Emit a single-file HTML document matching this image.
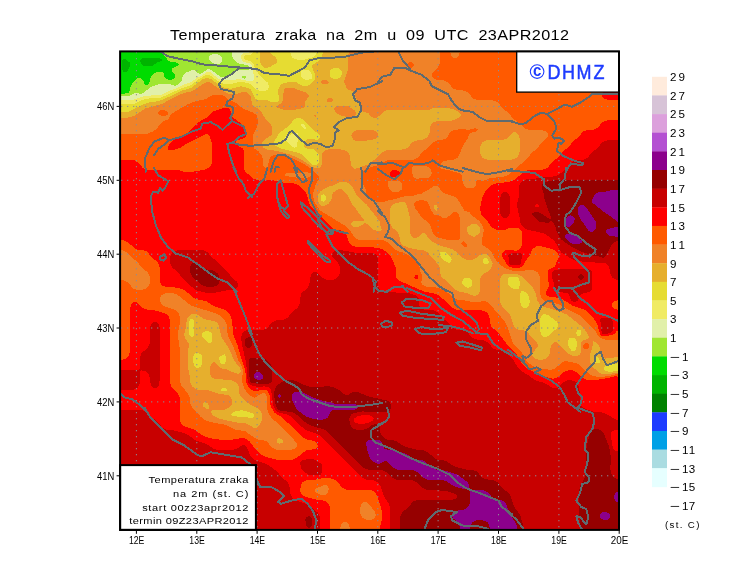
<!DOCTYPE html>
<html><head><meta charset="utf-8"><title>Temperatura zraka na 2m</title>
<style>
html,body{margin:0;padding:0;background:#fff;}
body{width:740px;height:582px;overflow:hidden;}
svg{display:block}
text{font-family:"Liberation Sans",sans-serif;fill:#000}
</style></head><body>
<svg width="740" height="582" viewBox="0 0 740 582">
<rect width="740" height="582" fill="#fff"/>
<defs><clipPath id="mc"><rect x="120" y="51" width="499" height="479"/></clipPath></defs>
<g clip-path="url(#mc)" shape-rendering="crispEdges">
<rect x="100" y="40" width="540" height="500" fill="#00b400"/>
<path fill="#00dc00" fill-rule="evenodd" d="M111.0,41.0 629.0,41.0 629.0,539.0 111.0,539.0ZM123.0,59.0 122.1,61.0 122.1,69.0 123.0,71.6 125.0,72.7 127.5,71.0 130.3,65.0 130.3,63.0 125.0,58.7ZM141.0,58.9 140.2,61.0 141.0,63.7 143.0,65.5 147.0,66.0 153.0,65.5 157.0,62.5 161.5,61.0 162.0,59.0 159.0,58.1 153.0,58.0 143.0,58.1Z"/>
<path fill="#a0e632" fill-rule="evenodd" d="M162.0,41.0 629.0,41.0 629.0,539.0 111.0,539.0 111.0,93.5 125.0,93.5 128.3,93.0 129.8,91.0 130.5,87.0 132.5,83.0 137.0,78.5 139.0,78.1 141.0,78.5 143.5,81.0 145.0,85.0 147.0,85.2 149.4,83.0 151.0,76.3 154.3,73.0 157.0,72.1 163.0,72.3 163.8,73.0 164.5,77.0 167.0,79.4 171.0,79.9 173.7,79.0 175.4,77.0 175.4,75.0 171.7,71.0 171.5,69.0 179.4,65.0 177.0,62.6 169.0,61.4 163.7,55.0 162.5,53.0 162.1,51.0Z"/>
<path fill="#e1f0aa" fill-rule="evenodd" d="M250.0,41.0 629.0,41.0 629.0,539.0 111.0,539.0 111.0,96.0 127.0,96.3 129.0,96.0 135.0,93.1 141.0,93.7 143.4,93.0 151.0,86.7 159.0,84.1 169.0,84.1 175.0,85.7 177.0,85.2 181.4,81.0 182.5,77.0 184.8,73.0 191.0,70.5 193.0,70.1 195.0,70.5 199.0,73.9 201.0,73.6 207.0,69.6 209.0,69.2 211.0,69.7 220.8,77.0 225.0,77.5 227.6,77.0 231.0,75.5 237.0,70.5 249.0,69.7 249.6,69.0 249.6,67.0 247.1,65.0 239.0,63.5 234.8,61.0 232.5,57.0 232.0,51.0 232.9,47.0 235.0,46.1 247.0,46.0 249.0,45.5 250.0,43.0ZM243.0,75.6 242.0,77.0 243.0,78.2 245.0,79.0 246.4,77.0 245.0,75.5ZM210.3,55.0 213.0,54.1 215.0,54.0 217.0,54.1 219.7,55.0 221.5,57.0 221.9,59.0 221.9,61.0 221.1,63.0 219.0,63.9 217.0,64.0 215.0,63.9 212.3,63.0 208.6,59.0 208.6,57.0Z"/>
<path fill="#f0eb64" fill-rule="evenodd" d="M252.0,41.0 629.0,41.0 629.0,539.0 111.0,539.0 111.0,98.5 121.0,99.9 133.0,99.8 145.0,95.8 160.9,95.0 171.0,89.9 175.0,89.0 185.0,84.1 189.3,83.0 193.0,80.9 197.0,77.4 201.0,76.0 207.0,72.1 209.0,71.8 211.0,72.7 219.0,79.2 221.0,79.9 227.0,80.3 239.0,79.2 251.0,81.3 253.0,81.0 253.9,79.0 253.7,75.0 251.4,65.0 249.0,63.0 245.0,62.3 242.5,61.0 241.2,59.0 240.9,57.0 241.3,55.0 243.0,53.3 249.0,52.5 250.5,51.0 251.7,45.0Z"/>
<path fill="#e6dc32" fill-rule="evenodd" d="M253.7,41.0 290.0,41.0 290.1,51.0 291.0,55.6 293.0,58.2 295.0,59.3 301.0,60.0 305.0,59.5 313.0,57.1 315.7,55.0 317.0,51.0 317.1,41.0 629.0,41.0 629.0,539.0 111.0,539.0 111.0,102.1 119.0,102.8 123.0,104.0 133.0,104.0 135.0,103.6 145.0,98.8 161.0,97.6 181.0,88.5 191.0,85.2 198.8,79.0 207.0,74.6 209.0,74.7 219.0,81.7 223.0,83.4 225.0,83.9 231.0,84.0 241.0,81.7 247.4,83.0 251.0,84.6 255.0,89.0 257.0,90.2 261.0,91.0 265.0,90.8 267.0,90.2 268.3,89.0 269.1,87.0 268.1,83.0 261.0,76.8 259.0,74.5 255.0,68.2 253.0,63.0 251.0,61.2 245.0,59.8 244.2,59.0 243.6,57.0 245.0,55.5 251.0,54.7 252.6,53.0ZM285.0,72.6 284.1,73.0 285.0,74.2 285.7,73.0ZM295.0,132.4 290.4,135.0 285.0,137.0 284.7,139.0 291.0,145.9 293.0,147.3 295.0,147.6 297.0,146.7 297.5,145.0 297.2,143.0 298.5,137.0 298.4,135.0 297.3,133.0ZM303.0,69.9 301.6,71.0 300.8,73.0 301.6,77.0 303.0,78.6 305.0,79.8 307.0,79.9 311.2,79.0 312.6,77.0 311.0,72.3 309.0,70.5 305.0,69.6ZM301.0,123.9 300.7,125.0 303.0,127.8 305.0,129.4 306.1,129.0 304.7,125.0 303.0,123.4Z"/>
<path fill="#e6af2d" fill-rule="evenodd" d="M260.1,41.0 269.9,41.0 270.2,53.0 272.1,55.0 275.0,56.5 277.4,61.0 277.0,63.0 269.0,67.4 265.0,67.8 263.3,67.0 261.4,65.0 260.4,63.0 259.9,59.0ZM322.9,41.0 629.0,41.0 629.0,363.3 619.0,363.2 615.0,363.7 605.0,366.4 604.1,367.0 604.1,369.0 605.4,371.0 609.0,371.7 619.0,371.2 623.0,369.9 629.0,369.7 629.0,539.0 111.0,539.0 111.0,112.0 125.0,112.0 129.0,111.5 143.0,104.5 149.0,102.5 155.0,101.9 163.0,99.7 181.0,90.9 191.0,87.9 203.0,79.1 207.0,78.1 211.0,78.9 217.0,83.7 223.0,87.3 225.0,87.8 231.0,88.9 241.0,86.2 249.0,88.2 251.0,89.7 255.0,98.4 257.0,99.5 267.0,100.2 271.0,102.0 277.0,102.4 279.1,101.0 279.1,97.0 277.9,93.0 278.4,89.0 280.6,85.0 283.0,83.5 291.0,81.6 295.0,81.5 301.0,85.1 305.0,86.3 307.0,86.1 309.0,85.2 313.8,81.0 315.0,79.0 315.4,77.0 314.5,73.0 312.0,67.0 312.6,65.0 319.0,60.9 321.9,57.0 322.8,53.0ZM323.0,194.3 321.0,195.8 320.5,199.0 321.0,200.7 323.0,201.7 325.0,201.0 325.9,199.0 325.9,197.0 325.0,194.9ZM333.0,68.1 329.9,71.0 329.5,75.0 330.6,77.0 333.0,78.6 335.0,78.9 339.0,78.3 340.6,77.0 341.8,75.0 341.7,71.0 339.0,68.2 337.0,67.7ZM441.0,252.2 439.5,253.0 439.7,255.0 443.0,259.7 447.0,262.3 449.0,263.0 451.0,261.8 451.7,259.0 450.7,257.0 447.0,253.0 445.0,251.7ZM465.0,278.1 463.8,279.0 462.6,281.0 462.2,283.0 463.1,285.0 467.0,287.6 469.0,287.6 471.0,286.6 472.5,285.0 472.1,281.0 471.3,279.0 469.0,277.8ZM485.0,257.5 483.2,259.0 483.0,261.2 483.6,263.0 485.0,264.3 487.0,264.2 489.1,263.0 488.5,261.0 487.0,258.4ZM511.0,276.7 509.0,277.5 508.1,279.0 507.9,283.0 509.0,286.1 511.0,287.6 515.0,289.1 517.0,289.5 519.0,289.1 520.0,283.0 519.0,278.3 517.0,276.9ZM521.0,290.9 520.1,295.0 520.1,301.0 520.8,305.0 523.0,307.7 525.0,308.3 527.0,307.7 529.0,305.3 529.6,303.0 529.4,297.0 526.9,293.0 523.0,290.9ZM543.0,314.5 541.0,316.2 540.2,319.0 540.2,331.0 541.5,335.0 543.0,336.6 545.0,337.4 547.0,336.8 556.2,329.0 557.9,327.0 558.4,325.0 557.9,323.0 556.1,321.0 549.0,315.6 545.0,314.2ZM569.0,338.6 567.9,341.0 568.1,345.0 568.7,347.0 571.8,351.0 573.0,351.5 575.0,351.0 576.2,349.0 576.8,345.0 576.6,341.0 575.9,339.0 575.0,338.1 573.0,337.7ZM577.0,330.7 576.1,333.0 577.0,335.6 579.0,335.9 580.7,335.0 581.4,333.0 581.0,330.6 579.0,329.4ZM597.0,356.7 595.0,357.9 594.6,361.0 595.8,363.0 597.0,363.5 599.0,363.4 599.6,363.0 599.7,361.0 599.3,359.0ZM191.0,318.7 189.3,321.0 188.6,333.0 189.0,335.0 191.0,336.9 193.0,336.9 194.1,335.0 194.2,333.0 193.7,321.0 193.0,318.8ZM197.0,352.7 195.0,353.3 193.8,355.0 192.8,359.0 193.8,365.0 195.0,366.9 197.0,367.9 199.0,367.5 201.0,366.2 201.8,365.0 202.4,359.0 202.3,357.0 201.0,354.1ZM207.0,330.9 205.0,331.3 202.5,333.0 201.9,335.0 202.5,337.0 208.4,343.0 211.0,343.1 212.0,341.0 212.2,339.0 212.2,335.0 211.6,333.0 209.0,331.2ZM223.0,354.9 219.0,357.0 218.9,359.0 221.0,363.7 223.0,364.7 225.4,363.0 226.0,359.0 226.0,357.0 225.0,354.1ZM237.0,410.6 231.9,413.0 230.6,415.0 235.0,416.3 251.0,417.8 253.0,417.8 254.2,417.0 254.4,415.0 252.0,413.0 243.0,410.4ZM295.0,118.7 287.4,127.0 279.0,133.1 273.5,143.0 274.2,145.0 277.5,147.0 282.8,149.0 298.8,153.0 301.0,154.0 313.0,165.0 316.0,165.0 318.7,163.0 319.3,161.0 319.1,155.0 318.0,153.0 315.0,150.1 313.0,149.3 307.0,148.5 305.0,147.8 304.3,147.0 304.0,145.0 305.7,141.0 307.0,139.7 308.6,139.0 311.0,138.7 317.0,139.9 319.0,139.1 319.8,137.0 319.5,135.0 317.7,133.0 313.0,130.0 303.0,119.6 301.0,118.4 299.0,118.1ZM223.0,388.2 221.1,389.0 221.6,391.0 225.0,391.4 226.5,391.0 226.9,389.0 225.0,388.2Z"/>
<path fill="#f08228" fill-rule="evenodd" d="M350.0,41.0 629.0,41.0 629.0,357.1 615.0,357.3 605.0,358.7 603.0,357.4 600.4,353.0 599.5,347.0 598.5,345.0 597.0,343.1 595.0,341.7 593.0,341.4 592.1,349.0 590.3,353.0 589.8,359.0 590.3,363.0 592.6,367.0 601.0,373.8 603.0,374.3 609.0,374.2 613.0,373.3 617.0,373.1 619.0,373.3 621.0,374.5 623.0,376.8 629.0,377.3 629.0,539.0 111.0,539.0 111.0,118.0 127.0,117.9 135.0,115.5 145.0,108.6 163.0,103.6 167.0,100.8 179.0,94.8 185.0,92.8 191.0,91.6 195.0,89.6 205.0,82.6 209.0,82.2 211.0,82.7 217.0,87.7 223.6,91.0 227.0,93.3 229.0,93.9 237.0,93.9 241.0,92.5 245.0,92.1 247.0,92.6 250.1,95.0 251.1,97.0 252.0,105.0 254.6,107.0 258.7,109.0 260.9,111.0 265.0,118.3 269.7,123.0 272.1,127.0 272.3,131.0 271.5,135.0 265.4,139.0 263.3,141.0 262.1,143.0 262.0,145.0 262.9,147.0 265.0,148.9 267.0,149.6 277.0,150.9 291.0,154.8 303.0,160.6 312.1,167.0 317.0,168.4 319.0,168.3 321.0,166.5 322.1,163.0 322.5,153.0 323.0,151.9 325.0,150.5 329.0,149.1 333.0,148.9 339.0,149.1 345.0,150.3 347.0,151.3 349.0,153.5 350.1,157.0 351.0,165.4 353.0,168.0 355.0,168.7 359.0,168.1 363.0,166.1 367.4,165.0 375.0,159.3 381.2,153.0 385.0,150.6 405.0,149.3 408.4,147.0 411.6,143.0 414.3,141.0 423.0,139.5 425.0,138.7 427.2,137.0 428.7,135.0 429.5,133.0 430.7,125.0 431.9,123.0 433.0,122.3 437.0,121.3 449.0,121.0 453.0,120.4 459.0,117.5 461.0,115.2 460.0,113.0 457.0,110.7 453.0,109.2 445.0,107.6 435.0,107.6 433.0,107.9 429.0,109.9 427.0,110.0 387.0,110.2 385.0,110.8 383.0,112.3 377.0,117.9 375.0,118.4 371.8,117.0 368.1,113.0 363.0,111.7 361.0,110.3 360.4,109.0 359.5,103.0 356.5,99.0 353.1,91.0 347.0,89.1 344.5,83.0 344.2,81.0 344.7,79.0 347.6,71.0 347.6,59.0 348.8,53.0ZM471.0,224.3 467.7,227.0 466.6,229.0 466.6,231.0 469.0,234.3 471.0,235.6 473.0,236.6 475.0,236.5 479.0,233.5 480.4,231.0 480.4,229.0 479.0,226.5 477.0,224.5 475.0,223.6 473.0,223.6ZM513.0,132.4 507.0,138.3 505.0,139.3 501.0,139.9 487.0,140.2 483.0,141.8 480.7,145.0 480.1,149.0 480.2,153.0 481.8,157.0 485.0,159.3 491.0,160.0 511.0,159.8 515.0,158.7 517.0,157.2 518.7,155.0 519.8,151.0 519.8,139.0 519.0,135.9 517.0,133.2 515.0,132.2ZM191.0,314.5 189.0,315.9 186.9,319.0 186.0,327.0 184.1,335.0 185.0,338.1 188.4,343.0 188.9,345.0 187.5,355.0 187.5,365.0 189.9,377.0 190.5,383.0 191.3,385.0 193.0,387.2 197.0,389.6 209.0,390.5 219.0,393.9 228.2,395.0 230.9,397.0 231.7,399.0 232.1,403.0 231.5,405.0 229.0,407.7 225.0,409.5 213.0,410.3 211.1,411.0 211.3,413.0 212.6,415.0 215.4,417.0 220.8,419.0 235.0,422.3 245.0,423.2 249.0,424.8 253.0,427.4 255.0,428.1 257.0,427.9 259.9,425.0 261.5,421.0 262.1,415.0 261.0,411.6 258.8,409.0 251.0,405.2 247.9,403.0 241.2,397.0 239.1,393.0 239.0,387.0 237.0,383.5 235.0,381.8 231.0,380.2 215.0,378.9 211.4,377.0 210.3,375.0 209.9,371.0 210.3,367.0 211.0,364.7 213.0,362.5 215.0,362.4 219.0,366.8 221.0,368.2 227.0,369.5 231.0,371.5 237.0,373.5 239.0,373.6 240.0,373.0 240.9,371.0 239.8,367.0 236.0,363.0 233.5,359.0 229.0,348.3 221.3,337.0 218.7,325.0 217.0,322.8 214.3,321.0 205.0,319.4 203.0,318.5 198.1,315.0 195.0,313.8 193.0,313.7ZM277.0,439.0 276.4,441.0 277.4,443.0 279.0,443.6 282.6,443.0 283.2,441.0 281.5,439.0 279.0,438.2ZM339.0,182.5 333.0,185.5 329.0,186.5 320.6,191.0 318.0,195.0 317.6,197.0 317.9,201.0 319.0,203.6 321.0,205.5 323.0,206.0 325.0,205.6 329.0,203.3 331.5,199.0 332.8,193.0 339.0,188.6 341.0,188.6 347.0,194.3 352.5,205.0 356.2,209.0 359.0,213.7 363.7,219.0 363.9,221.0 363.0,221.3 357.0,220.8 353.0,221.3 351.4,223.0 351.4,225.0 353.0,226.6 357.0,227.2 361.0,225.8 364.8,223.0 365.0,222.2 365.3,223.0 367.0,224.0 373.0,229.5 379.0,231.3 381.1,231.0 381.7,229.0 380.7,227.0 379.6,221.0 375.0,215.7 373.0,212.3 369.0,207.9 367.0,204.8 362.1,201.0 357.0,195.7 351.2,185.0 347.0,182.4 343.0,182.0ZM397.0,202.8 392.2,205.0 390.7,207.0 390.0,211.0 390.2,223.0 391.7,227.0 397.0,231.6 399.0,234.3 400.8,243.0 402.3,245.0 407.0,247.2 415.0,249.3 423.0,250.2 427.0,251.7 438.7,265.0 439.5,267.0 440.7,275.0 441.7,277.0 449.0,283.1 454.5,289.0 459.0,291.4 467.0,293.3 473.0,295.6 475.0,295.8 477.4,295.0 479.2,293.0 479.8,291.0 480.1,279.0 481.0,276.0 483.0,274.0 489.0,270.8 491.0,268.6 492.4,265.0 492.6,263.0 491.8,261.0 489.0,256.4 487.0,254.3 485.0,253.6 483.0,253.7 481.0,254.4 475.0,258.8 473.0,259.6 469.0,260.0 465.0,259.4 461.2,257.0 457.0,252.4 453.0,249.4 441.0,245.9 431.1,241.0 429.0,239.0 425.0,233.3 422.5,233.0 417.0,237.9 415.0,238.4 413.0,237.8 411.0,235.4 410.3,233.0 409.7,217.0 406.8,205.0 405.0,202.3 403.0,201.8ZM435.0,204.5 434.2,205.0 433.8,207.0 435.0,210.3 437.0,211.1 437.6,207.0 437.0,205.2ZM503.0,274.2 501.0,276.0 500.1,279.0 500.0,299.0 500.5,303.0 502.7,307.0 507.0,311.0 510.1,315.0 513.4,325.0 515.0,327.8 517.0,329.3 525.0,330.7 527.0,331.7 537.0,343.0 537.9,345.0 537.7,347.0 532.4,353.0 532.2,355.0 533.2,357.0 536.0,359.0 539.0,359.7 543.0,359.7 547.0,358.1 549.3,355.0 551.0,345.8 553.0,343.2 555.0,342.2 557.0,342.4 558.0,343.0 563.1,349.0 567.6,353.0 571.0,355.3 575.0,356.4 577.0,356.1 579.2,355.0 580.7,353.0 580.5,347.0 581.1,343.0 583.0,340.4 587.8,339.0 589.1,337.0 587.1,333.0 583.0,327.4 567.0,314.5 552.1,309.0 543.0,306.8 540.1,305.0 537.6,301.0 535.0,291.6 533.0,288.1 529.0,283.0 521.0,275.7 517.0,274.2 511.0,273.7 507.0,273.5ZM203.0,402.9 202.6,405.0 203.8,407.0 207.0,408.9 209.0,408.5 208.8,405.0 207.5,403.0 205.0,402.0ZM321.2,81.0 323.0,80.3 327.0,80.5 328.0,81.0 328.7,83.0 327.0,83.8 323.0,83.8 321.1,83.0ZM284.0,89.0 287.0,87.9 293.0,87.9 307.0,93.0 308.6,95.0 308.5,97.0 304.4,103.0 305.5,107.0 303.0,108.1 297.0,109.4 289.0,110.2 283.0,109.5 275.2,107.0 281.7,103.0 282.5,101.0ZM327.0,99.0 329.0,98.2 331.0,98.2 332.9,99.0 333.0,101.0 329.0,102.7 326.7,101.0ZM334.9,107.0 337.0,106.1 339.0,106.0 347.0,106.1 349.0,106.5 355.2,111.0 356.0,113.0 355.4,115.0 353.0,116.5 351.0,116.6 345.0,116.6 341.0,115.7 337.0,113.6 335.0,111.7 334.2,109.0ZM314.2,115.0 315.0,114.6 316.6,115.0 315.9,117.0 314.8,117.0ZM354.4,131.0 357.0,130.1 361.0,129.7 373.0,130.3 375.0,130.8 377.0,132.1 378.3,135.0 377.7,137.0 375.0,139.2 365.0,140.9 357.0,141.0 355.0,140.6 353.0,139.2 351.7,137.0 351.4,135.0 352.1,133.0Z"/>
<path fill="#ff5a00" fill-rule="evenodd" d="M440.1,41.0 450.0,41.0 450.1,51.0 450.8,55.0 453.0,57.7 455.0,58.3 457.0,57.7 459.2,55.0 459.9,51.0 459.9,41.0 629.0,41.0 629.0,340.1 607.0,340.0 601.0,338.2 597.7,335.0 595.0,330.6 591.0,326.1 579.3,315.0 557.0,303.7 547.0,302.2 545.0,301.5 543.0,300.0 541.1,297.0 540.5,295.0 539.7,277.0 538.2,273.0 535.6,271.0 533.0,270.2 529.0,270.1 519.0,271.1 513.0,270.8 507.0,268.9 500.0,265.0 495.2,259.0 490.9,251.0 489.0,249.1 482.1,245.0 481.6,243.0 481.8,241.0 483.8,231.0 483.7,229.0 480.9,223.0 479.0,220.8 471.4,215.0 469.0,211.8 464.7,211.0 457.5,199.0 455.6,197.0 443.8,193.0 441.4,191.0 438.6,187.0 437.0,185.8 433.0,186.6 429.0,189.5 421.0,193.8 415.0,194.9 413.0,195.9 405.0,196.1 395.0,199.2 389.0,200.2 383.0,202.3 377.0,201.9 369.0,197.5 366.5,195.0 365.6,189.0 360.3,179.0 360.7,177.0 363.5,171.0 365.0,169.1 377.0,165.4 387.0,160.4 411.0,160.0 415.0,159.4 418.4,157.0 423.0,151.5 427.0,148.7 433.0,142.7 437.0,140.5 445.6,139.0 447.8,137.0 449.6,133.0 451.0,131.5 453.0,130.6 461.0,129.0 469.0,129.8 475.0,128.1 477.9,129.0 477.0,131.3 471.0,132.8 469.0,134.8 467.4,139.0 463.0,145.5 459.0,155.7 457.0,158.2 453.0,159.8 445.0,160.7 443.0,161.7 440.2,165.0 440.0,167.0 441.8,169.0 449.0,170.0 453.0,171.5 459.7,173.0 461.8,175.0 462.5,181.0 464.9,187.0 467.0,187.9 473.0,187.9 475.0,187.1 475.9,185.0 476.4,181.0 477.0,180.2 479.0,180.1 483.0,181.0 491.0,177.9 503.0,176.9 508.3,175.0 526.9,159.0 531.5,153.0 537.0,148.5 541.5,143.0 547.8,137.0 548.3,135.0 547.7,133.0 545.0,130.8 541.0,130.1 529.0,129.9 525.0,128.7 517.0,121.3 513.0,118.5 508.5,113.0 503.0,108.5 498.4,103.0 495.7,101.0 491.0,100.1 479.0,99.9 475.0,99.3 473.0,98.3 468.4,93.0 465.7,91.0 455.0,89.3 453.0,88.3 448.4,83.0 445.7,81.0 443.0,80.2 437.0,79.7 435.0,79.2 433.0,77.9 431.7,75.0 432.2,73.0 438.3,67.0 439.8,63.0ZM389.0,180.5 387.9,181.0 388.0,185.0 388.5,187.0 391.0,191.2 393.0,191.9 397.0,191.9 399.0,191.5 402.3,189.0 401.5,183.0 399.5,181.0 397.0,180.5ZM413.0,166.2 411.5,169.0 411.5,171.0 413.0,176.2 415.0,178.1 417.0,178.8 421.0,178.1 427.0,177.9 429.0,177.5 431.4,175.0 431.8,173.0 430.8,169.0 427.0,166.2 417.0,165.5ZM408.4,63.0 409.0,62.4 411.0,62.1 413.0,62.9 413.8,65.0 413.1,67.0 411.0,67.8 409.0,67.1 408.1,65.0ZM213.1,95.0 219.0,94.5 223.0,95.2 229.0,99.9 237.0,103.5 243.3,109.0 253.0,112.4 256.5,115.0 257.9,119.0 257.6,125.0 257.0,127.3 253.1,135.0 252.7,145.0 253.2,147.0 254.9,149.0 258.1,151.0 261.8,155.0 262.4,157.0 263.0,164.8 265.0,168.0 267.4,167.0 269.6,159.0 270.7,157.0 273.0,155.4 275.0,154.9 289.0,156.9 291.0,157.7 305.6,165.0 314.2,171.0 315.0,173.0 319.1,177.0 319.5,179.0 316.2,183.0 313.2,193.0 313.3,197.0 314.2,201.0 316.3,205.0 318.9,209.0 321.0,211.0 345.0,225.8 350.2,231.0 355.0,238.1 357.0,239.3 361.0,239.9 381.0,240.0 385.0,240.6 388.8,243.0 393.0,247.6 397.0,250.7 405.0,253.3 408.3,255.0 417.0,261.6 419.0,264.3 420.2,271.0 421.9,275.0 421.9,279.0 421.1,283.0 423.0,285.2 427.0,286.8 437.0,287.6 443.0,289.3 447.0,292.1 453.0,297.6 457.0,299.6 465.0,300.5 473.0,302.2 477.0,302.2 483.0,301.2 487.0,301.7 489.0,303.2 505.0,321.6 506.7,325.0 513.0,343.1 515.0,345.8 520.9,351.0 525.2,359.0 528.6,363.0 531.0,364.8 535.0,366.8 543.0,369.0 551.0,369.8 555.0,368.7 563.0,361.7 565.0,361.1 569.0,361.6 575.6,363.0 579.0,364.4 588.1,373.0 593.0,376.2 601.0,377.2 611.0,375.5 613.0,374.7 617.0,374.3 619.1,375.0 621.0,379.6 623.0,382.3 629.0,382.7 629.0,539.0 349.9,539.0 349.9,529.0 349.2,525.0 347.0,522.3 345.0,521.7 343.0,522.3 340.9,525.0 340.2,529.0 340.1,539.0 111.0,539.0 111.0,280.0 121.0,280.1 125.0,280.7 128.4,283.0 133.0,288.3 135.0,289.3 139.0,289.9 143.0,289.7 147.0,288.2 149.3,285.0 149.9,281.0 149.7,277.0 148.2,273.0 141.5,267.0 137.0,261.5 133.0,258.7 127.0,252.7 123.0,250.5 111.0,250.1 111.0,134.2 147.0,133.8 153.0,131.3 156.4,129.0 161.0,123.0 163.2,121.0 169.0,119.1 170.2,115.0 175.0,111.5 187.0,104.7 191.0,102.9 197.0,101.0 205.0,99.4ZM289.0,172.9 287.0,173.1 284.0,175.0 287.0,176.3 305.0,178.7 307.0,178.2 311.8,175.0 311.2,173.0 307.0,172.4ZM325.0,484.6 315.0,488.9 314.7,491.0 316.5,493.0 321.0,495.1 323.0,495.4 325.2,495.0 327.7,493.0 328.7,489.0 328.3,487.0 327.0,485.3ZM363.0,502.3 360.8,505.0 360.1,509.0 360.3,513.0 361.8,517.0 364.4,519.0 367.0,519.7 371.0,519.8 373.0,519.2 375.2,517.0 375.7,515.0 375.0,512.1 368.1,503.0 365.0,501.7ZM169.0,292.9 165.0,293.4 161.7,295.0 160.5,297.0 160.2,301.0 160.7,303.0 162.2,305.0 165.0,306.6 175.0,310.0 178.4,313.0 179.4,315.0 179.9,319.0 179.8,323.0 177.7,335.0 179.9,349.0 180.1,381.0 181.1,385.0 188.9,395.0 189.6,397.0 190.7,405.0 193.0,408.8 201.0,417.0 205.0,420.0 211.0,422.1 226.5,425.0 235.0,429.5 245.0,431.1 257.0,439.4 265.0,440.7 267.0,441.7 271.6,447.0 275.0,449.3 279.0,449.9 289.0,449.9 293.0,449.4 295.0,448.5 296.6,447.0 297.4,445.0 296.8,443.0 287.4,433.0 271.0,417.1 269.0,414.1 266.6,407.0 267.0,397.0 266.3,395.0 265.0,393.5 263.0,393.0 261.0,393.7 255.0,397.6 253.0,397.3 249.0,394.5 244.4,389.0 241.8,381.0 241.8,377.0 243.4,373.0 242.1,367.0 238.7,361.0 234.3,349.0 228.6,337.0 227.5,333.0 226.8,325.0 225.2,321.0 223.7,319.0 221.0,316.3 217.0,313.8 191.0,305.6 177.0,294.3 173.0,293.1ZM158.9,111.0 161.0,110.1 163.0,110.0 167.0,110.9 168.1,113.0 167.6,115.0 165.0,116.0 163.0,116.0 159.0,115.1 158.2,113.0ZM416.2,201.0 421.0,200.1 425.0,200.7 427.0,201.7 429.0,204.2 429.7,207.0 433.0,213.4 435.0,215.1 439.0,215.5 443.0,217.9 445.0,218.4 447.0,217.9 453.0,212.2 455.0,211.7 457.9,213.0 459.2,215.0 459.9,219.0 459.6,239.0 459.0,239.6 457.0,239.9 447.0,239.7 439.0,237.8 435.0,235.9 432.9,233.0 430.9,227.0 429.0,223.4 421.5,217.0 415.0,208.0 414.1,205.0 414.5,203.0ZM461.2,243.0 463.0,241.2 465.0,242.1 467.4,245.0 467.0,246.7 465.0,247.4 464.2,247.0 462.1,245.0ZM585.0,343.0 587.2,343.0 589.0,345.0 589.0,347.1 587.0,349.3 585.0,349.4 583.1,347.0 583.3,345.0Z"/>
<path fill="#ff0000" fill-rule="evenodd" d="M604.6,91.0 609.0,90.1 629.0,90.1 629.0,99.9 609.0,99.9 605.0,99.2 602.3,97.0 601.7,95.0 602.3,93.0ZM219.9,109.0 225.0,107.7 229.0,108.5 230.5,111.0 232.2,117.0 241.0,123.4 245.8,129.0 246.8,133.0 246.6,135.0 245.4,137.0 243.0,138.6 237.0,140.5 235.2,143.0 236.7,145.0 243.0,148.8 243.9,151.0 244.0,169.0 245.0,171.9 249.8,175.0 253.0,178.3 255.0,179.3 259.0,180.0 273.0,180.2 283.0,182.5 293.0,183.1 298.3,185.0 305.0,191.0 306.9,195.0 309.1,203.0 311.2,207.0 333.0,228.5 335.0,229.4 343.0,231.0 345.0,232.7 347.0,236.4 349.0,242.1 351.3,245.0 353.0,246.0 357.0,247.1 373.0,247.4 379.0,248.1 383.0,249.4 387.0,252.4 391.2,257.0 395.6,267.0 396.1,277.0 396.9,279.0 400.0,281.0 425.0,292.0 433.0,293.1 437.0,294.3 445.0,300.7 451.2,307.0 455.0,309.4 459.0,310.0 481.0,310.2 485.0,311.3 487.2,313.0 489.0,315.7 490.7,325.0 491.7,327.0 498.5,333.0 509.0,347.0 517.0,355.0 523.0,365.0 527.0,368.3 543.0,376.3 553.0,378.7 555.0,378.4 557.0,377.5 565.0,371.2 569.0,370.2 573.0,370.4 575.0,371.2 584.5,379.0 587.0,380.0 595.0,380.2 611.0,377.4 615.0,376.1 617.0,376.3 618.0,377.0 621.0,388.3 623.0,389.9 629.0,390.1 629.0,539.0 379.9,539.0 380.1,527.0 381.9,519.0 382.2,513.0 381.4,509.0 377.0,495.8 375.0,492.2 373.0,490.7 371.0,490.2 349.0,489.9 345.0,489.3 341.6,487.0 338.6,483.0 335.0,480.0 329.0,477.9 325.0,477.6 315.0,479.8 307.0,480.3 304.4,481.0 301.8,483.0 300.7,485.0 300.3,491.0 300.7,493.0 302.2,495.0 305.0,496.6 315.0,499.4 325.0,500.8 328.2,503.0 329.3,505.0 330.0,509.0 330.0,539.0 111.0,539.0 111.0,359.9 121.0,359.9 125.0,359.2 127.0,358.2 129.3,355.0 130.0,349.0 130.1,309.0 130.8,305.0 133.0,302.3 135.0,301.7 137.0,302.2 141.6,307.0 145.0,309.3 155.0,310.5 164.2,313.0 167.8,315.0 169.3,317.0 170.0,323.0 170.2,383.0 171.5,387.0 177.3,393.0 179.5,397.0 180.2,421.0 180.7,423.0 182.2,425.0 185.0,426.6 195.0,429.9 201.7,435.0 205.0,436.7 215.0,439.4 231.0,439.9 241.0,438.2 245.0,438.4 249.2,441.0 255.0,448.6 261.6,455.0 265.7,457.0 277.0,459.8 289.0,460.0 293.0,459.6 297.0,457.6 305.0,451.1 307.0,450.3 315.0,449.1 317.5,447.0 317.7,445.0 316.7,443.0 315.0,441.5 313.0,440.6 307.0,439.7 303.0,437.6 283.9,419.0 281.6,417.0 274.8,413.0 270.9,407.0 270.0,403.0 269.5,395.0 268.9,393.0 267.0,390.6 265.0,389.7 263.0,389.5 257.0,390.9 255.0,391.1 253.0,390.6 251.0,389.2 247.1,385.0 245.7,381.0 245.5,373.0 244.3,367.0 240.8,357.0 237.5,345.0 233.3,335.0 232.1,321.0 230.9,317.0 228.8,313.0 225.0,309.9 213.0,305.8 205.9,301.0 195.0,298.9 185.0,290.5 182.2,289.0 177.0,287.6 167.0,287.0 163.0,285.9 161.7,285.0 160.5,283.0 159.9,269.0 159.0,264.4 157.0,261.6 153.0,258.5 147.0,251.7 145.0,250.7 137.0,249.5 135.0,248.7 128.8,243.0 125.0,240.6 121.0,240.0 111.0,239.9 111.0,159.7 131.0,159.8 135.0,160.5 138.5,163.0 143.0,168.1 147.0,169.8 177.0,170.2 181.0,170.6 185.0,172.1 189.0,172.4 205.0,169.7 209.0,167.6 211.0,165.9 211.9,163.0 211.9,143.0 209.0,134.9 207.0,134.2 205.0,134.5 185.0,144.6 181.0,147.5 175.0,149.5 169.0,150.5 167.9,149.0 167.9,147.0 170.3,143.0 173.0,140.4 185.0,135.3 199.0,121.8 207.8,117.0 213.0,111.6ZM604.3,121.0 609.0,120.1 629.0,120.0 629.0,300.1 619.0,300.1 615.0,300.8 612.3,303.0 611.7,305.0 612.3,307.0 615.0,309.2 619.0,309.9 629.0,309.9 629.0,329.9 619.0,330.0 617.0,330.7 615.4,333.0 613.0,334.6 605.0,336.5 603.0,336.4 600.4,335.0 597.0,323.7 595.0,320.1 586.7,311.0 583.0,309.1 573.0,306.0 562.2,299.0 557.0,297.6 549.0,296.7 546.2,295.0 545.7,293.0 546.3,291.0 548.4,287.0 548.9,285.0 547.7,277.0 548.0,271.0 549.5,269.0 554.2,267.0 555.8,265.0 556.9,261.0 558.8,257.0 558.6,255.0 557.0,252.1 553.0,249.4 541.0,246.2 537.0,246.2 532.1,249.0 530.0,255.0 525.0,261.8 523.5,265.0 521.2,267.0 519.0,267.8 515.0,268.1 509.0,266.7 507.0,265.0 502.6,257.0 501.9,255.0 502.1,253.0 505.0,250.2 517.0,250.6 520.0,249.0 522.0,245.0 522.4,243.0 522.3,237.0 521.5,231.0 519.0,228.5 513.0,227.7 509.0,228.0 505.0,229.9 503.0,230.0 497.0,229.8 494.3,229.0 491.6,227.0 487.2,221.0 481.7,215.0 480.7,213.0 480.2,209.0 480.6,205.0 482.6,197.0 484.2,193.0 487.0,189.3 491.7,185.0 497.0,183.0 507.0,182.3 512.3,181.0 515.6,179.0 523.0,172.4 527.0,170.4 543.0,169.7 547.0,168.2 553.0,161.5 558.5,157.0 563.0,151.5 568.5,147.0 573.0,141.5 578.5,137.0 583.0,131.7 587.0,130.2 593.0,129.8 595.7,129.0 598.4,127.0 601.6,123.0ZM390.9,171.0 393.0,170.1 395.0,170.0 399.0,170.9 399.9,173.0 399.9,175.0 399.0,176.9 395.0,177.5 391.2,177.0 390.1,175.0 390.1,173.0ZM415.4,275.0 417.0,274.7 418.8,277.0 417.0,279.3 415.0,278.8 414.3,277.0Z"/>
<path fill="#c80000" fill-rule="evenodd" d="M604.3,141.0 609.0,140.1 629.0,140.0 629.0,280.0 617.0,279.8 613.0,278.2 610.7,275.0 609.0,266.0 607.0,264.1 605.0,263.3 577.0,261.1 575.0,260.7 571.0,258.7 561.0,252.2 555.0,241.9 552.1,239.0 546.7,235.0 542.8,233.0 527.0,229.6 525.0,228.4 521.6,225.0 520.4,223.0 519.3,215.0 517.6,211.0 517.4,203.0 518.7,197.0 519.1,187.0 519.4,185.0 521.0,182.3 525.0,179.7 527.0,179.2 535.0,178.7 541.0,177.4 553.0,176.6 558.3,175.0 567.0,168.5 573.0,161.7 575.0,160.7 583.0,159.8 587.0,158.3 593.0,151.5 597.0,148.5 601.6,143.0ZM537.0,204.3 535.1,205.0 535.2,207.0 537.0,207.6 538.9,207.0 538.9,205.0ZM502.2,193.0 505.0,191.7 507.0,192.3 509.0,194.6 509.7,197.0 509.7,213.0 509.2,215.0 507.9,217.0 505.0,218.3 502.2,217.0 500.8,215.0 500.3,213.0 500.1,199.0 500.8,195.0ZM174.4,251.0 179.0,250.1 199.0,250.0 203.0,250.2 207.0,251.7 211.5,257.0 219.0,263.1 227.0,271.1 231.5,277.0 237.0,281.9 238.3,285.0 237.7,287.0 235.4,289.0 233.0,289.7 227.0,290.2 215.0,292.7 205.0,292.5 197.0,290.6 193.0,287.9 183.1,279.0 178.5,273.0 171.7,267.0 170.3,263.0 170.3,257.0 171.8,253.0ZM334.6,251.0 337.0,250.3 341.0,250.1 355.0,252.7 371.0,252.9 375.0,253.6 377.1,255.0 377.5,257.0 377.6,285.0 379.0,288.5 381.0,290.2 385.0,292.1 407.0,292.9 411.0,293.6 414.8,295.0 417.9,297.0 419.5,299.0 419.2,305.0 419.7,307.0 421.0,308.5 425.0,309.9 433.0,310.2 435.7,311.0 438.4,313.0 443.0,318.5 447.0,321.5 453.0,328.3 457.0,329.8 465.0,330.7 467.0,331.7 471.6,337.0 474.3,339.0 485.0,340.7 488.4,343.0 493.0,348.3 495.0,349.3 503.0,350.7 505.0,351.7 513.0,359.6 519.0,369.0 521.0,371.0 527.8,375.0 535.0,380.1 545.0,383.3 553.0,388.2 555.0,388.6 557.0,388.1 563.0,382.7 567.0,380.5 571.0,380.2 575.0,381.3 577.2,383.0 579.0,386.7 579.8,393.0 580.1,403.0 580.5,405.0 583.0,407.5 587.0,409.5 593.0,411.5 603.0,412.6 608.5,415.0 615.0,419.3 619.0,420.0 629.0,420.1 629.0,429.9 615.0,430.1 612.8,431.0 611.0,433.0 610.6,435.0 613.0,449.0 615.0,450.4 619.0,451.6 623.0,450.2 629.0,450.0 629.0,539.0 390.0,539.0 389.8,507.0 388.5,503.0 384.2,497.0 380.9,487.0 378.6,483.0 375.0,480.7 365.0,479.4 361.2,477.0 331.0,447.0 324.0,439.0 319.3,435.0 315.0,433.0 307.8,431.0 305.0,429.5 299.0,424.6 291.5,417.0 288.5,415.0 277.0,411.9 276.0,411.0 273.1,405.0 271.3,391.0 270.5,389.0 269.0,387.5 265.0,386.4 257.0,386.8 253.0,386.0 249.0,383.9 247.7,381.0 246.2,363.0 241.7,343.0 241.2,337.0 242.1,333.0 244.4,331.0 247.0,330.2 261.0,329.9 265.0,329.3 267.0,328.3 271.6,323.0 274.3,321.0 277.0,320.2 283.0,319.8 287.0,318.3 291.5,313.0 298.3,307.0 299.8,303.0 300.7,295.0 301.7,293.0 307.0,288.4 309.0,285.7 310.8,275.0 313.0,272.3 315.0,271.7 317.0,272.2 321.6,277.0 325.0,279.3 329.0,279.9 333.0,279.8 337.0,278.2 339.3,275.0 339.9,271.0 339.8,267.0 338.3,263.0 332.2,257.0 331.7,255.0 332.3,253.0ZM363.0,414.9 357.0,416.5 353.8,419.0 353.5,421.0 355.0,423.0 359.0,423.8 367.0,423.4 373.0,420.6 373.7,419.0 373.0,417.0 371.0,415.8 367.0,414.9ZM508.4,255.0 511.0,253.3 521.0,253.3 521.9,255.0 521.0,263.3 519.0,265.1 511.0,265.0 508.9,263.0ZM560.3,269.0 583.0,268.9 589.0,269.5 591.0,270.3 592.3,273.0 592.4,277.0 592.3,287.0 591.4,291.0 589.0,292.2 583.7,293.0 581.0,294.4 577.7,301.0 575.0,301.8 573.0,301.6 571.0,300.4 569.2,295.0 567.0,293.0 557.0,291.8 555.2,291.0 554.4,289.0 553.8,283.0 552.4,279.0 552.3,273.0 553.1,271.0 557.0,269.6ZM600.3,319.0 603.0,317.8 611.0,317.7 611.9,319.0 613.5,325.0 613.0,331.0 611.0,332.6 605.0,334.4 603.0,334.1 601.8,333.0 601.0,328.8ZM152.2,323.0 155.0,321.7 157.0,322.3 159.0,324.7 159.6,327.0 159.8,379.0 159.0,385.3 157.0,387.7 155.0,388.3 153.0,387.7 150.8,385.0 149.7,377.0 148.0,373.0 145.0,371.0 141.0,370.3 140.3,371.0 139.8,383.0 139.0,385.7 137.0,388.2 135.0,389.3 131.0,389.9 111.0,390.0 111.0,370.1 139.0,369.9 139.9,369.0 140.1,359.0 140.7,355.0 141.7,353.0 147.0,348.4 149.3,345.0 150.0,341.0 150.3,327.0 150.8,325.0ZM111.0,411.0 111.0,410.0 139.0,410.0 145.0,410.7 148.4,413.0 151.5,417.0 157.0,421.5 163.0,428.3 167.0,429.8 175.0,430.6 185.0,433.3 188.3,435.0 195.0,440.1 207.0,444.2 213.0,448.5 215.0,449.4 219.0,450.0 233.0,449.8 237.0,448.5 242.7,445.0 245.0,445.3 247.0,447.6 249.9,455.0 253.0,458.8 257.0,460.9 265.0,463.3 268.3,465.0 277.0,471.5 281.5,477.0 287.0,481.6 289.3,485.0 290.6,495.0 293.0,498.6 297.0,500.9 305.0,503.3 308.3,505.0 318.2,513.0 319.3,515.0 319.9,519.0 319.9,539.0 111.0,539.0ZM301.0,461.0 303.0,459.9 309.0,459.0 313.0,459.3 317.0,460.8 321.0,463.7 321.9,465.0 322.3,467.0 321.8,473.0 321.0,474.3 319.0,475.3 311.0,475.5 308.8,475.0 303.1,471.0 301.4,469.0 300.2,463.0Z"/>
<path fill="#960000" fill-rule="evenodd" d="M550.2,181.0 553.0,180.4 567.0,179.9 629.0,179.9 629.0,250.1 623.0,249.9 621.0,248.1 619.0,242.0 617.0,240.9 612.8,243.0 605.1,257.0 603.0,257.7 601.0,257.4 599.0,256.5 593.0,255.5 581.0,251.5 571.0,246.5 561.0,239.3 556.5,231.0 555.5,227.0 553.5,223.0 551.4,221.0 551.1,217.0 548.5,211.0 544.5,199.0 543.5,193.0 542.1,189.0 542.1,185.0 542.9,183.0ZM532.0,213.0 535.0,212.1 539.0,212.5 543.0,214.5 547.0,217.5 550.7,219.0 550.7,221.0 549.0,223.1 547.0,223.4 545.0,222.5 539.0,221.5 532.2,215.0ZM192.1,263.0 195.0,261.7 197.0,262.2 201.5,267.0 204.3,269.0 213.0,270.5 217.0,272.8 218.7,275.0 219.8,279.0 219.3,283.0 217.8,285.0 213.0,286.9 207.0,286.9 203.0,285.7 199.3,283.0 192.7,277.0 190.5,273.0 190.3,267.0 190.8,265.0ZM578.9,275.0 581.0,274.2 583.1,275.0 583.8,277.0 583.1,279.0 581.0,279.8 579.0,279.1 578.2,277.0ZM248.7,337.0 251.0,337.3 251.8,339.0 252.0,341.0 251.9,345.0 251.1,347.0 249.0,347.8 247.0,347.6 246.0,347.0 245.0,345.5 244.7,343.0 244.8,341.0 245.6,339.0ZM249.6,359.0 251.0,358.1 253.0,357.8 263.0,357.9 265.3,359.0 269.0,362.1 271.2,365.0 272.4,369.0 272.2,381.0 271.1,383.0 269.0,383.5 257.0,383.6 251.0,382.6 249.8,381.0 249.6,379.0 248.8,361.0ZM284.1,381.0 289.0,380.0 295.0,380.6 304.0,385.0 311.0,387.2 321.0,387.5 325.0,386.2 329.0,386.2 335.0,387.9 339.0,389.8 345.0,394.9 347.0,395.5 353.0,391.7 357.0,391.6 365.0,395.1 371.0,397.0 387.0,400.6 389.0,401.5 390.3,403.0 390.7,405.0 390.5,409.0 389.6,411.0 387.0,412.3 377.0,412.5 363.0,411.4 353.0,413.4 350.7,415.0 349.3,419.0 349.7,423.0 351.0,426.0 353.0,428.3 355.0,429.3 359.0,430.0 363.0,429.8 367.0,428.6 372.2,425.0 377.0,423.7 379.1,425.0 380.5,433.0 381.5,435.0 385.0,438.4 387.0,439.5 395.0,440.6 397.0,441.5 401.7,445.0 405.9,447.0 415.0,449.4 425.0,450.6 428.8,453.0 435.0,458.7 437.0,459.5 445.0,460.6 447.0,461.5 451.7,465.0 455.9,467.0 465.0,469.4 475.0,470.7 477.0,471.7 481.6,477.0 484.4,479.0 493.0,480.2 497.0,481.7 503.0,488.5 509.0,493.4 510.9,497.0 514.2,507.0 520.1,515.0 522.5,523.0 522.9,539.0 400.1,539.0 400.1,519.0 400.7,515.0 403.0,511.6 407.0,508.5 413.0,501.7 415.0,500.7 419.0,500.0 453.0,499.6 455.1,499.0 457.0,497.1 456.5,495.0 453.1,493.0 445.0,490.7 429.0,490.1 425.0,489.4 421.2,487.0 417.0,482.7 413.0,480.5 399.0,480.0 395.0,479.4 391.2,477.0 387.0,472.7 383.0,470.5 369.0,469.9 365.0,468.7 362.7,467.0 326.7,431.0 322.6,429.0 313.0,426.3 307.0,423.4 303.0,420.9 297.0,414.9 293.0,412.3 279.0,410.3 277.5,409.0 275.0,403.0 274.2,395.0 274.7,389.0 277.0,385.7 281.0,382.5ZM591.5,431.0 593.0,429.7 595.0,429.3 599.0,429.5 601.0,430.1 603.6,433.0 609.2,447.0 610.9,457.0 610.3,469.0 611.1,473.0 613.0,476.8 615.0,478.3 617.0,478.7 623.0,479.9 629.0,479.9 629.0,539.0 580.0,539.0 579.9,521.0 578.9,513.0 579.1,491.0 580.5,485.0 585.2,477.0 585.8,471.0 585.9,451.0 589.3,435.0ZM306.5,517.0 309.0,516.3 311.0,517.1 311.8,519.0 311.8,525.0 311.0,527.1 309.0,527.8 307.0,527.1 306.1,525.0 305.2,519.0Z"/>
<path fill="#8c008c" fill-rule="evenodd" d="M608.0,191.0 611.0,190.1 629.0,190.1 629.0,220.1 623.0,220.2 619.0,221.7 617.0,221.5 611.0,216.5 602.3,211.0 595.7,205.0 592.4,203.0 591.3,201.0 594.5,195.0 596.3,193.0 599.0,192.1 605.0,191.9ZM580.4,205.0 583.0,204.6 586.0,207.0 595.5,221.0 595.9,227.0 595.5,229.0 593.0,231.5 591.0,231.8 588.8,231.0 580.4,219.0 578.5,215.0 578.1,209.0 578.5,207.0ZM566.8,217.0 569.0,215.7 571.0,215.2 573.9,217.0 574.8,219.0 573.5,223.0 571.0,226.0 569.0,227.3 567.0,227.0 566.1,225.0 566.1,219.0ZM616.1,227.0 619.0,226.4 623.0,229.8 629.0,230.0 629.0,239.9 623.0,239.5 615.0,236.4 609.0,235.5 606.2,233.0 605.7,231.0 608.1,229.0ZM565.0,235.0 567.0,234.1 573.0,234.5 577.0,236.5 582.2,241.0 581.5,243.0 579.0,243.9 577.0,244.0 573.0,243.7 571.1,243.0 568.4,241.0 564.8,237.0ZM254.9,373.0 257.0,372.1 259.0,372.1 261.0,372.8 263.4,377.0 263.0,379.0 259.0,379.9 255.0,379.1 254.1,377.0 254.1,375.0ZM292.9,393.0 295.0,392.1 301.0,392.1 303.0,392.5 313.0,397.5 325.0,401.5 331.0,402.5 335.0,403.9 355.0,404.1 357.1,405.0 357.8,407.0 356.8,409.0 355.0,409.5 333.0,410.3 331.2,411.0 328.2,417.0 325.6,419.0 321.0,419.8 315.0,419.4 306.9,417.0 299.0,411.4 296.5,409.0 292.5,401.0 292.1,395.0ZM277.6,395.0 279.0,394.3 280.9,395.0 280.9,397.0 279.0,397.7 277.6,397.0ZM366.7,441.0 369.0,439.8 371.0,439.5 379.0,439.8 381.3,441.0 383.0,446.8 385.0,449.3 395.0,450.6 404.1,453.0 408.3,455.0 413.0,458.6 415.0,459.5 423.0,460.5 425.0,461.3 431.1,467.0 435.0,469.4 445.0,470.7 457.0,474.3 466.2,481.0 468.0,483.0 469.0,485.0 469.4,489.0 469.0,489.4 465.0,489.2 456.1,487.0 451.7,485.0 447.0,481.4 443.0,480.1 427.0,479.5 423.0,477.3 418.9,473.0 415.0,470.6 411.0,469.9 397.0,469.5 393.0,467.3 387.0,461.5 385.0,460.8 381.0,463.4 379.0,463.7 377.0,463.5 373.0,461.7 370.6,459.0 367.9,453.0 366.0,443.0ZM470.2,491.0 471.0,490.2 473.0,490.0 481.0,490.1 485.0,490.7 488.4,493.0 493.0,498.3 495.0,499.3 503.0,500.7 505.0,502.2 506.6,505.0 509.9,515.0 515.0,521.7 516.5,525.0 517.1,529.0 517.1,539.0 490.0,539.0 489.9,529.0 489.0,524.4 487.0,521.8 485.0,520.7 479.0,520.1 475.0,520.7 473.0,521.8 470.7,525.0 470.0,529.0 469.9,539.0 460.1,539.0 460.0,529.0 459.3,525.0 457.0,521.6 453.0,518.1 451.7,515.0 452.3,513.0 454.7,511.0 465.0,509.3 468.2,507.0 469.8,503.0ZM621.2,491.0 623.0,490.3 629.0,490.1 629.0,499.9 623.0,500.1 619.0,501.7 617.0,501.9 614.9,501.0 614.0,497.0 614.9,493.0ZM600.9,513.0 603.0,512.1 605.0,512.0 609.0,512.9 609.9,515.0 609.9,517.0 609.1,519.0 607.0,519.9 605.0,520.0 601.0,519.1 600.1,517.0 600.1,515.0Z"/>
</g>
<g clip-path="url(#mc)">
<g stroke="#8c8c96" stroke-width="1" stroke-dasharray="1.3,4.7" fill="none"><line x1="136.4" y1="52" x2="136.4" y2="528"/><line x1="196.8" y1="52" x2="196.8" y2="528"/><line x1="257.1" y1="52" x2="257.1" y2="528"/><line x1="317.5" y1="52" x2="317.5" y2="528"/><line x1="377.8" y1="52" x2="377.8" y2="528"/><line x1="438.1" y1="52" x2="438.1" y2="528"/><line x1="498.5" y1="52" x2="498.5" y2="528"/><line x1="558.9" y1="52" x2="558.9" y2="528"/><line x1="121" y1="106.4" x2="618" y2="106.4"/><line x1="121" y1="180.3" x2="618" y2="180.3"/><line x1="121" y1="254.2" x2="618" y2="254.2"/><line x1="121" y1="328.0" x2="618" y2="328.0"/><line x1="121" y1="401.9" x2="618" y2="401.9"/><line x1="121" y1="475.8" x2="618" y2="475.8"/></g>
<path d="M158.1,50.0 167.4,56.2 181.9,59.3 192.2,61.3 202.5,64.4 216.9,65.5 239.6,67.5 252.0,68.6M239.6,67.5 232.4,73.7 223.1,78.9 219.0,84.0 221.0,89.2 227.2,90.2 234.4,92.3 232.4,98.5 227.2,101.5 226.2,105.7 232.4,106.7 233.4,111.9 230.3,118.0 232.4,121.1M145.8,171.6 144.7,159.3 148.9,149.0 154.0,141.8 164.3,137.6 169.1,140.3 163.3,145.3 158.1,149.0 154.0,155.2M169.1,140.3 181.9,136.6 192.2,131.4 200.4,128.8 202.5,123.6 210.7,122.2 219.0,126.7 222.5,130.0 227.2,125.3 232.4,121.1 243.7,126.7 246.2,134.1 239.6,136.6 232.4,142.8 227.2,143.8 229.3,153.1 232.4,163.4 235.9,171.6M232.4,142.8 239.6,144.8 252.0,145.9M250.0,68.1 258.2,69.6 264.4,73.1 278.9,74.3 289.2,75.8 297.4,71.6 304.6,67.5 309.8,60.3 318.0,58.2 342.8,57.2 357.2,53.7 365.5,52.1 382.0,51.0M382.0,81.3 369.6,87.1 357.2,89.2 353.1,94.3 355.2,100.5 360.3,102.6 360.9,110.8 357.2,117.0 346.9,118.0 338.7,122.2 334.1,127.3 338.7,130.4 334.9,132.5 334.5,140.7 332.5,145.9 326.3,147.3 320.1,143.8 313.9,142.8 307.7,145.3 299.5,138.7 292.3,130.8 289.2,132.5 286.1,138.7 280.9,143.2 270.6,144.4 247.9,145.9M270.6,171.6 273.7,161.3 277.8,155.2 284.0,154.7 291.2,159.3 294.3,164.4 297.4,171.6M274.7,171.6 275.8,166.5 278.9,167.5M365.5,171.6 370.6,163.4 382.0,162.4M397.5,50.0 402.7,60.3 408.9,67.5 410.9,70.6 421.2,74.7 429.5,80.9 431.5,86.1 439.8,90.2 448.0,94.3 452.2,101.5 458.4,108.8 464.5,110.8 472.8,111.9 479.0,117.0 487.2,121.1 512.0,121.1M377.9,82.0 382.1,76.8 390.3,74.7 393.4,69.6 394.4,67.5 404.7,67.5 410.9,70.6M377.9,164.4 392.4,163.0 404.7,167.5 408.9,163.0 421.2,164.4 429.5,162.4 432.6,160.3 439.8,165.5 450.1,168.6 462.5,171.6M510.0,121.1 520.3,124.2 525.5,123.2 534.7,116.0 540.9,112.9 547.1,113.9 557.4,108.8 564.6,104.6 571.9,106.7 580.1,102.6 588.4,97.4 592.5,93.7 600.7,94.3 619.3,93.7M547.1,113.9 554.3,121.1 556.4,128.4 552.3,135.6 554.3,138.7 559.5,137.6 564.0,140.7 561.5,143.8 558.5,142.8 557.0,151.0 563.6,156.2 576.0,161.3 583.2,163.0 582.2,165.5 570.8,163.4 565.7,171.6M154.0,167.9 158.1,175.2 168.5,181.3 165.4,187.5 162.3,190.6 160.2,187.5 158.1,192.7 153.0,191.6 150.9,196.8 152.0,211.2 156.1,225.7 161.2,238.0 167.4,246.3 175.7,253.5 188.0,257.6 198.4,264.8 206.6,271.0 216.9,278.2 227.2,282.4 236.5,291.6M160.2,256.6 164.3,254.5 166.4,257.6 163.3,260.7 160.2,259.7ZM233.4,167.9 238.6,178.2 243.7,184.4 245.8,190.6 252.0,196.8M247.9,197.8 254.1,193.7 257.2,187.5 260.3,182.4 264.4,178.2 267.5,167.9M276.8,184.4 280.9,180.3 283.0,188.6 286.1,198.9 288.1,206.1 285.1,209.2 280.9,207.1 277.8,200.9 276.8,192.7ZM277.8,200.9 280.9,211.2 287.1,218.5 289.2,216.4 284.0,211.2M297.4,167.9 303.6,174.1 306.7,180.3 302.6,182.4 297.4,176.2 294.3,167.9M311.9,167.9 311.9,180.3 308.8,188.6 309.8,196.8 312.9,205.1 318.0,214.3 321.1,216.4 318.0,219.5 322.2,228.8 326.3,231.9 333.5,229.8 332.5,233.9 326.3,234.3 332.5,246.3 340.7,254.5 349.0,262.8 359.3,270.0 369.6,275.2 375.8,281.3 373.7,291.6M333.5,229.8 340.7,231.9 347.9,233.5M300.5,202.0 306.7,207.1 316.0,216.4 324.2,224.6 332.5,231.9 329.4,233.9 322.2,228.8 311.9,218.5 302.6,208.1ZM307.7,241.1 313.9,247.3 322.2,255.6 329.4,259.7 330.4,262.4 326.3,261.8 318.0,254.5 308.8,244.2ZM361.3,167.9 362.4,180.3 361.3,190.6 367.5,196.8 373.7,200.9 377.8,207.1 382.0,213.3M377.9,169.0 386.2,175.2 394.4,179.3 400.6,174.1 402.7,167.9M377.9,211.2 385.2,217.4 389.3,225.7 388.2,231.9 385.2,237.0 392.4,239.1 398.6,245.3 406.8,251.4 413.0,256.6 421.2,266.9 429.5,277.2 439.8,286.5 447.0,291.6M462.5,167.9 476.9,172.1 487.2,174.1 499.6,172.1 512.0,169.0M387.2,291.6 394.4,287.1 402.7,286.5 407.8,291.6M507.9,171.0 522.4,171.6 534.7,173.1 544.0,179.3 544.0,185.5 551.2,190.6 559.5,190.2M565.7,167.9 565.3,178.2 559.5,184.4 559.5,190.2 571.9,186.5 580.1,187.5 581.1,192.7 576.0,203.0 570.8,211.2 565.7,215.4 564.6,225.7 569.8,232.9 578.0,236.0 586.3,243.2 595.6,249.4 594.5,252.5 589.4,256.6 581.1,255.6 572.9,252.5 573.9,256.6 580.1,262.8 588.4,271.0 589.4,282.4 582.2,284.4 571.9,288.6 559.5,287.5 557.4,291.6M233.4,287.9 238.6,300.3 243.7,312.7 247.8,323.0 252.0,334.3M117.9,390.0 124.1,397.2 132.4,399.3 140.6,405.5 146.8,411.6M249.0,330.2 253.1,339.5 258.2,351.9 264.4,361.1 270.6,367.3 276.8,373.5 285.1,380.7 293.3,384.8 299.5,389.0 301.5,394.1 307.7,398.2 316.0,401.3 328.4,405.5 338.7,407.5 357.2,406.5 373.7,404.4 382.0,403.0M406.8,287.9 421.2,294.1 431.5,298.2 441.9,308.6 451.1,314.7 462.5,320.9 472.8,329.2 477.9,333.3 487.2,334.3 493.4,343.6 501.6,349.8 512.0,355.6M441.9,287.9 452.2,293.1 455.3,304.4 462.5,310.6 470.7,316.8 476.9,323.0 479.0,329.2 475.9,333.3M401.6,302.4 406.8,298.7 421.2,299.9 430.5,303.4 428.5,308.1 417.1,308.1 404.7,306.5ZM399.6,312.7 406.8,310.6 421.2,313.7 437.7,315.8 443.9,316.8 442.9,319.9 429.5,318.9 415.1,317.8 402.7,315.8ZM415.1,329.2 421.2,327.1 433.6,329.2 448.0,328.1 446.0,332.3 429.5,334.3 419.2,333.3ZM438.8,325.1 450.1,326.1 462.5,329.2 472.8,333.3M381.0,324.0 385.2,320.9 391.3,322.0 392.4,325.1 387.2,327.1 382.1,326.7ZM456.3,342.6 462.5,341.5 472.8,344.6 482.1,347.7 481.0,350.2 470.7,347.7 459.4,345.7ZM554.3,287.9 558.5,296.2 562.6,302.4 563.6,308.6 559.5,310.6 554.3,306.5 552.3,301.3 547.1,301.3 540.9,306.5 536.8,314.7 537.8,320.9 530.6,325.1 526.5,331.2 526.1,339.5 530.6,347.7 531.6,353.9 526.5,358.0 522.4,356.0 524.4,363.2 529.6,369.4M571.9,287.9 580.1,298.2 588.4,304.4 596.6,312.7 606.9,315.8 619.3,321.3M507.9,349.8 516.2,356.0 522.4,361.1 529.6,369.4 536.8,367.3 540.9,369.4 534.7,372.5 543.0,376.6 551.2,380.7 559.5,386.9 564.6,395.2 567.7,402.4 576.0,408.6 580.1,411.6M619.3,360.7 606.9,365.3 602.8,358.0 600.7,351.9 595.6,354.9 594.5,362.2 588.4,368.4 582.2,376.6 576.0,385.9 578.0,393.1 582.2,397.2 580.1,405.5 576.0,408.6M256.2,479.1 260.3,487.3 270.6,486.7 278.9,491.4 284.0,495.6 277.8,501.8 280.9,503.8 291.2,500.7 301.5,498.7 307.7,503.8 312.9,511.0 316.0,519.3 314.9,531.6M382.0,424.0 371.6,429.6 370.6,436.8 375.8,443.0 382.0,444.4M144.7,407.9 150.9,418.2 161.2,428.6 171.5,438.9 183.9,445.1 196.3,454.3 201.4,456.4 210.7,452.3 223.1,454.3 241.6,457.4 252.0,465.7M387.2,407.9 389.3,416.2 386.2,421.3 377.9,424.8M377.9,443.4 392.4,449.2 406.8,456.4 421.2,462.6 437.7,468.8 450.1,474.9 458.4,483.2 466.6,488.4 483.1,494.5 498.6,500.7 501.6,506.9 512.0,514.1M423.3,531.6 428.5,519.3 435.7,512.1 441.9,510.0 457.3,512.1 451.1,516.2 452.2,520.3 462.5,525.5 479.0,526.5 487.2,528.6 491.3,531.6M578.0,407.9 592.5,413.1 594.5,420.3 592.5,428.6 586.3,436.8 584.6,449.2 588.4,453.3 587.3,463.6 584.6,471.9 589.4,478.0 588.4,482.2 582.2,484.2 580.1,492.5 576.4,500.7 581.1,506.9 586.3,509.0 588.4,517.2 586.3,524.4 580.1,517.2 576.4,516.2 578.0,522.4 583.2,531.6M507.9,512.1 516.2,519.3 525.5,531.6M373.0,278.2 373.9,284.9 378.6,290.9 386.2,291.7 394.7,286.8 403.2,286.4" fill="none" stroke="#5f6b70" stroke-width="2" stroke-linejoin="round" stroke-linecap="round" shape-rendering="crispEdges"/>
</g>
<rect x="516.7" y="51.4" width="102" height="40.7" fill="#fff" stroke="#000" stroke-width="1.3"/>
<rect x="120.1" y="465.1" width="135.8" height="64.8" fill="#fff" stroke="#000" stroke-width="2"/>
<rect x="120.1" y="51.4" width="498.9" height="478.5" fill="none" stroke="#000" stroke-width="2"/>
<g stroke="#000" stroke-width="1" fill="none"><line x1="136.4" y1="530.5" x2="136.4" y2="533.8"/><line x1="196.8" y1="530.5" x2="196.8" y2="533.8"/><line x1="257.1" y1="530.5" x2="257.1" y2="533.8"/><line x1="317.5" y1="530.5" x2="317.5" y2="533.8"/><line x1="377.8" y1="530.5" x2="377.8" y2="533.8"/><line x1="438.1" y1="530.5" x2="438.1" y2="533.8"/><line x1="498.5" y1="530.5" x2="498.5" y2="533.8"/><line x1="558.9" y1="530.5" x2="558.9" y2="533.8"/><line x1="619.2" y1="530.5" x2="619.2" y2="533.8"/><line x1="116.6" y1="106.4" x2="119.2" y2="106.4"/><line x1="116.6" y1="180.3" x2="119.2" y2="180.3"/><line x1="116.6" y1="254.2" x2="119.2" y2="254.2"/><line x1="116.6" y1="328.0" x2="119.2" y2="328.0"/><line x1="116.6" y1="401.9" x2="119.2" y2="401.9"/><line x1="116.6" y1="475.8" x2="119.2" y2="475.8"/></g>
<g font-size="10.7"><text x="136.7" y="543.9" text-anchor="middle" textLength="15.5" lengthAdjust="spacingAndGlyphs">12E</text><text x="197.1" y="543.9" text-anchor="middle" textLength="15.5" lengthAdjust="spacingAndGlyphs">13E</text><text x="257.4" y="543.9" text-anchor="middle" textLength="15.5" lengthAdjust="spacingAndGlyphs">14E</text><text x="317.8" y="543.9" text-anchor="middle" textLength="15.5" lengthAdjust="spacingAndGlyphs">15E</text><text x="378.1" y="543.9" text-anchor="middle" textLength="15.5" lengthAdjust="spacingAndGlyphs">16E</text><text x="438.4" y="543.9" text-anchor="middle" textLength="15.5" lengthAdjust="spacingAndGlyphs">17E</text><text x="498.8" y="543.9" text-anchor="middle" textLength="15.5" lengthAdjust="spacingAndGlyphs">18E</text><text x="559.1" y="543.9" text-anchor="middle" textLength="15.5" lengthAdjust="spacingAndGlyphs">19E</text><text x="619.5" y="543.9" text-anchor="middle" textLength="17.5" lengthAdjust="spacingAndGlyphs">20E</text><text x="114.3" y="110.3" text-anchor="end" textLength="17.3" lengthAdjust="spacingAndGlyphs">46N</text><text x="114.3" y="184.2" text-anchor="end" textLength="17.3" lengthAdjust="spacingAndGlyphs">45N</text><text x="114.3" y="258.1" text-anchor="end" textLength="17.3" lengthAdjust="spacingAndGlyphs">44N</text><text x="114.3" y="331.9" text-anchor="end" textLength="17.3" lengthAdjust="spacingAndGlyphs">43N</text><text x="114.3" y="405.8" text-anchor="end" textLength="17.3" lengthAdjust="spacingAndGlyphs">42N</text><text x="114.3" y="479.7" text-anchor="end" textLength="17.3" lengthAdjust="spacingAndGlyphs">41N</text></g>
<text transform="translate(170,40) scale(1.14,1)" font-size="14.2" textLength="350" lengthAdjust="spacing" style="word-spacing:4px">Temperatura zraka na 2m u 09 UTC 23APR2012</text>
<g font-size="9.7" text-anchor="end">
<text transform="translate(248.5,483) scale(1.14,1)" textLength="87.7" lengthAdjust="spacing">Temperatura zraka</text>
<text transform="translate(248.5,496.7) scale(1.14,1)" textLength="66.3" lengthAdjust="spacing">na 2m (st. C)</text>
<text transform="translate(248.5,510.7) scale(1.14,1)" textLength="93.3" lengthAdjust="spacing">start 00z23apr2012</text>
<text transform="translate(248.5,524) scale(1.14,1)" textLength="104.6" lengthAdjust="spacing">termin 09Z23APR2012</text>
</g>
<circle cx="537.1" cy="71.6" r="6.8" fill="none" stroke="#1e3cff" stroke-width="1.1"/>
<text x="537.1" y="76.3" font-size="17" font-weight="bold" text-anchor="middle" textLength="8.4" lengthAdjust="spacingAndGlyphs" style="fill:#1e3cff">c</text>
<g transform="translate(547.4,78.6) scale(0.9,1)"><text x="0 16.2 32.3 51.2" y="0" font-size="20" style="fill:#1e3cff;stroke:#1e3cff;stroke-width:0.5">DHMZ</text></g>
<rect x="652" y="76.80" width="15" height="18.94" fill="#ffebdc"/><rect x="652" y="95.44" width="15" height="18.94" fill="#d7c3d7"/><rect x="652" y="114.08" width="15" height="18.94" fill="#dca0dc"/><rect x="652" y="132.72" width="15" height="18.94" fill="#b450d2"/><rect x="652" y="151.36" width="15" height="18.94" fill="#8c008c"/><rect x="652" y="170.00" width="15" height="18.94" fill="#960000"/><rect x="652" y="188.64" width="15" height="18.94" fill="#c80000"/><rect x="652" y="207.28" width="15" height="18.94" fill="#ff0000"/><rect x="652" y="225.92" width="15" height="18.94" fill="#ff5a00"/><rect x="652" y="244.56" width="15" height="18.94" fill="#f08228"/><rect x="652" y="263.20" width="15" height="18.94" fill="#e6af2d"/><rect x="652" y="281.84" width="15" height="18.94" fill="#e6dc32"/><rect x="652" y="300.48" width="15" height="18.94" fill="#f0eb64"/><rect x="652" y="319.12" width="15" height="18.94" fill="#e1f0aa"/><rect x="652" y="337.76" width="15" height="18.94" fill="#a0e632"/><rect x="652" y="356.40" width="15" height="18.94" fill="#00dc00"/><rect x="652" y="375.04" width="15" height="18.94" fill="#00b400"/><rect x="652" y="393.68" width="15" height="18.94" fill="#008200"/><rect x="652" y="412.32" width="15" height="18.94" fill="#1e3cff"/><rect x="652" y="430.96" width="15" height="18.94" fill="#00a0e6"/><rect x="652" y="449.60" width="15" height="18.94" fill="#aadce1"/><rect x="652" y="468.24" width="15" height="18.94" fill="#e6ffff"/>
<g font-size="11.6"><text x="670" y="81.1" textLength="15" lengthAdjust="spacing">29</text><text x="670" y="99.7" textLength="15" lengthAdjust="spacing">27</text><text x="670" y="118.4" textLength="15" lengthAdjust="spacing">25</text><text x="670" y="137.0" textLength="15" lengthAdjust="spacing">23</text><text x="670" y="155.7" textLength="15" lengthAdjust="spacing">21</text><text x="670" y="174.3" textLength="15" lengthAdjust="spacing">19</text><text x="670" y="192.9" textLength="15" lengthAdjust="spacing">17</text><text x="670" y="211.6" textLength="15" lengthAdjust="spacing">15</text><text x="670" y="230.2" textLength="15" lengthAdjust="spacing">13</text><text x="670" y="248.9" textLength="15" lengthAdjust="spacing">11</text><text x="670" y="267.5" textLength="6.3" lengthAdjust="spacing">9</text><text x="670" y="286.1" textLength="6.3" lengthAdjust="spacing">7</text><text x="670" y="304.8" textLength="6.3" lengthAdjust="spacing">5</text><text x="670" y="323.4" textLength="6.3" lengthAdjust="spacing">3</text><text x="670" y="342.1" textLength="6.3" lengthAdjust="spacing">1</text><text transform="translate(670,360.7) scale(1.5,1)">−</text><text x="682" y="360.7" textLength="6.3" lengthAdjust="spacing">1</text><text transform="translate(670,379.3) scale(1.5,1)">−</text><text x="682" y="379.3" textLength="6.3" lengthAdjust="spacing">3</text><text transform="translate(670,398.0) scale(1.5,1)">−</text><text x="682" y="398.0" textLength="6.3" lengthAdjust="spacing">5</text><text transform="translate(670,416.6) scale(1.5,1)">−</text><text x="682" y="416.6" textLength="6.3" lengthAdjust="spacing">7</text><text transform="translate(670,435.3) scale(1.5,1)">−</text><text x="682" y="435.3" textLength="6.3" lengthAdjust="spacing">9</text><text transform="translate(670,453.9) scale(1.5,1)">−</text><text x="682" y="453.9" textLength="13.2" lengthAdjust="spacing">11</text><text transform="translate(670,472.5) scale(1.5,1)">−</text><text x="682" y="472.5" textLength="13.2" lengthAdjust="spacing">13</text><text transform="translate(670,491.2) scale(1.5,1)">−</text><text x="682" y="491.2" textLength="13.2" lengthAdjust="spacing">15</text><text transform="translate(670,509.8) scale(1.5,1)">−</text><text x="682" y="509.8" textLength="13.2" lengthAdjust="spacing">17</text></g>
<text x="665" y="528.3" font-size="9.7" textLength="34.4" lengthAdjust="spacing">(st. C)</text>
</svg>
</body></html>
